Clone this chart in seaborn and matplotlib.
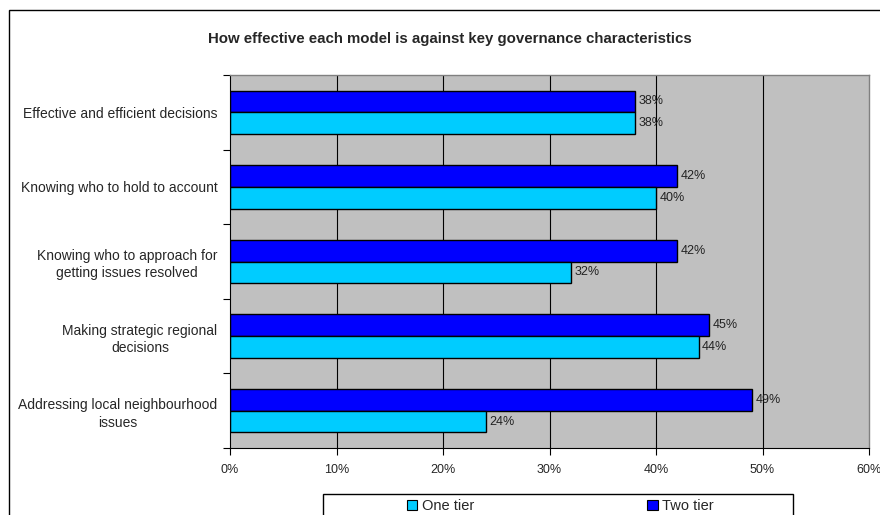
import matplotlib
matplotlib.use("Agg")
import matplotlib.pyplot as plt
import seaborn as sns
import pandas as pd
from matplotlib.patches import Rectangle, Patch

categories = [
    "Effective and efficient decisions",
    "Knowing who to hold to account",
    "Knowing who to approach for\ngetting issues resolved",
    "Making strategic regional\ndecisions",
    "Addressing local neighbourhood\nissues",
]
one_tier = [38, 40, 32, 44, 24]
two_tier = [38, 42, 42, 45, 49]
series_names = ["One tier", "Two tier"]
x_ticks = [0, 10, 20, 30, 40, 50, 60]
title = "How effective each model is against key governance characteristics"

colors = {"One tier": "#00CCFF", "Two tier": "#0000FF"}

df = pd.DataFrame({
    "category": categories * 2,
    "value": one_tier + two_tier,
    "series": ["One tier"] * len(categories) + ["Two tier"] * len(categories),
})

sns.set_theme(style="white")
plt.rcParams["font.family"] = ["Liberation Sans", "DejaVu Sans"]

fig = plt.figure(figsize=(8.8, 5.15), dpi=100)
W, H = 880, 515
ax = fig.add_axes([230 / W, 1 - 448 / H, (869 - 230) / W, (448 - 75) / H])
ax.set_facecolor("#C0C0C0")

sns.barplot(data=df, y="category", x="value", hue="series",
            hue_order=["Two tier", "One tier"], order=categories,
            palette=colors, orient="h", width=0.58, edgecolor="black",
            linewidth=1.0, ax=ax, legend=False, saturation=1)

for cont in ax.containers:
    vals = [b.get_width() for b in cont]
    ax.bar_label(cont, labels=[f"{v:.0f}%" for v in vals], padding=2.5,
                 fontsize=9, color="#222222")

ax.set_xlim(0, 60)
ax.set_ylim(len(categories) - 0.5, -0.5)
ax.set_xticks(x_ticks)
ax.set_xticklabels([f"{t}%" for t in x_ticks], fontsize=9)
ax.set_yticks(range(len(categories)))
ax.set_yticklabels(categories, fontsize=10, multialignment="center",
                   linespacing=1.3)
ax.tick_params(axis="y", length=0, pad=9)
ax.set_yticks([i - 0.5 for i in range(len(categories) + 1)], minor=True)
ax.tick_params(axis="y", which="minor", length=5, width=0.8, color="black", left=True)
ax.tick_params(axis="x", length=5, width=0.8, color="black", bottom=True, pad=6.5)
for t in x_ticks[1:-1]:
    ax.axvline(t, color="black", lw=0.8, zorder=0.5)
ax.set_xlabel("")
ax.set_ylabel("")
for s in ["top", "right"]:
    ax.spines[s].set_color("#808080")
    ax.spines[s].set_linewidth(1.0)
for s in ["left", "bottom"]:
    ax.spines[s].set_color("black")
    ax.spines[s].set_linewidth(0.8)

fig.text(450 / W, 1 - 39 / H, title, ha="center", va="center",
         fontsize=10.8, fontweight="bold")

# outer frame
fig.patches.append(Rectangle((9 / W, -0.1), 1.2, 1 - 10 / H + 0.1,
                             transform=fig.transFigure, fill=False,
                             edgecolor="black", lw=1.0))
# legend frame
fig.patches.append(Rectangle((323 / W, -0.1), (793 - 323) / W, 1 - 494 / H + 0.1,
                             transform=fig.transFigure, fill=False,
                             edgecolor="black", lw=1.0))
handles = [Patch(facecolor=colors[n], edgecolor="black", lw=0.8) for n in series_names]
fig.legend(handles, series_names, loc="center left",
           bbox_to_anchor=(407 / W, 1 - 506 / H), ncol=2, frameon=False,
           fontsize=10.5, handlelength=0.7, handleheight=0.7,
           handletextpad=0.3, columnspacing=11.9, borderpad=0, borderaxespad=0)

fig.savefig("out.png", dpi=100)
